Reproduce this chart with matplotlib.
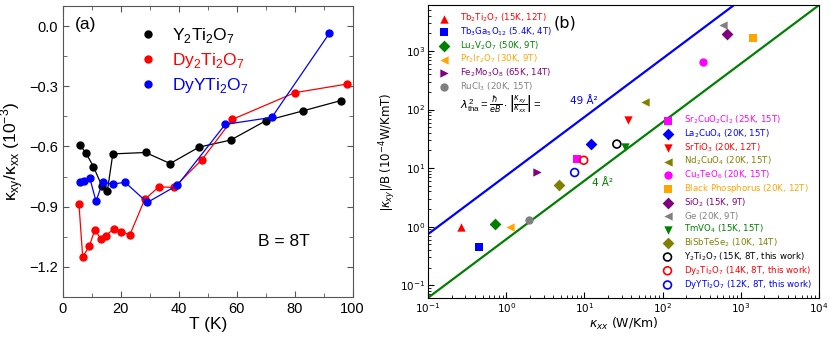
import numpy as np
import matplotlib
matplotlib.use("Agg")
import matplotlib.pyplot as plt
from matplotlib.lines import Line2D

plt.rcParams['mathtext.fontset'] = 'custom'
plt.rcParams['mathtext.rm'] = 'Liberation Sans'
plt.rcParams['mathtext.it'] = 'DejaVu Sans:italic'
plt.rcParams['mathtext.bf'] = 'DejaVu Sans:bold'
plt.rcParams['mathtext.sf'] = 'DejaVu Sans'

# ---------------- Panel (a) data ----------------
T_Y = [6.0, 8.0, 10.5, 13.4, 15.3, 17.2, 28.5, 37.0, 47.0, 57.9, 70.0, 83.0, 96.0]
r_Y = [-0.595, -0.635, -0.70, -0.796, -0.823, -0.637, -0.63, -0.685, -0.603, -0.568, -0.472, -0.422, -0.371]
T_Dy = [5.5, 6.8, 9.1, 11.0, 13.1, 14.7, 17.7, 20.1, 23.1, 28.2, 33.1, 38.4, 48.0, 58.5, 80.0, 98.0]
r_Dy = [-0.886, -1.150, -1.097, -1.014, -1.062, -1.044, -1.010, -1.024, -1.040, -0.864, -0.801, -0.804, -0.665, -0.465, -0.332, -0.289]
T_DyY = [6.0, 7.2, 9.2, 11.4, 13.7, 17.2, 21.4, 29.1, 39.5, 56.0, 72.1, 92.0]
r_DyY = [-0.778, -0.774, -0.755, -0.873, -0.778, -0.788, -0.778, -0.879, -0.793, -0.490, -0.455, -0.035]

# ---------------- Panel (b) data ----------------
names = [r'Tb$_\mathsf{2}$Ti$_\mathsf{2}$O$_\mathsf{7}$ (15K, 12T)',
         r'Tb$_\mathsf{3}$Ga$_\mathsf{5}$O$_\mathsf{12}$ (5.4K, 4T)',
         r'Lu$_\mathsf{2}$V$_\mathsf{2}$O$_\mathsf{7}$ (50K, 9T)',
         r'Pr$_\mathsf{2}$Ir$_\mathsf{2}$O$_\mathsf{7}$ (30K, 9T)',
         r'Fe$_\mathsf{2}$Mo$_\mathsf{3}$O$_\mathsf{8}$ (65K, 14T)',
         r'RuCl$_\mathsf{3}$ (20K, 15T)',
         r'Sr$_\mathsf{2}$CuO$_\mathsf{2}$Cl$_\mathsf{2}$ (25K, 15T)',
         r'La$_\mathsf{2}$CuO$_\mathsf{4}$ (20K, 15T)',
         r'SrTiO$_\mathsf{3}$ (20K, 12T)',
         r'Nd$_\mathsf{2}$CuO$_\mathsf{4}$ (20K, 15T)',
         r'Cu$_\mathsf{3}$TeO$_\mathsf{6}$ (20K, 15T)',
         r'Black Phosphorus$\mathsf{}_\mathsf{\ }$(20K, 12T)',
         r'SiO$_\mathsf{2}$ (15K, 9T)',
         r'Ge$\mathsf{}_\mathsf{\ }$(20K, 9T)',
         r'TmVO$_\mathsf{4}$ (15K, 15T)',
         r'BiSbTeSe$_\mathsf{2}$ (10K, 14T)',
         r'Y$_\mathsf{2}$Ti$_\mathsf{2}$O$_\mathsf{7}$ (15K, 8T, this work)',
         r'Dy$_\mathsf{2}$Ti$_\mathsf{2}$O$_\mathsf{7}$ (14K, 8T, this work)',
         r'DyYTi$_\mathsf{2}$O$_\mathsf{7}$ (12K, 8T, this work)']
kxx = [0.267, 0.45, 0.72, 1.115, 2.47, 1.97, 8.1, 12.3, 36.3, 59.4, 332, 1440, 676, 600, 33.3, 4.78, 26.0, 9.8, 7.5]
kxyB = [1.0, 0.455, 1.10, 1.0, 8.5, 1.30, 14.5, 25.7, 66.6, 137, 654, 1700, 1990, 2750, 23.3, 5.1, 25.7, 13.6, 8.4]
markers = ['^', 's', 'D', '<', '>', 'o', 's', 'D', 'v', '<', 'o', 's', 'D', '<', 'v', 'D', 'o', 'o', 'o']
colors = ['red', 'blue', 'green', 'orange', 'purple', 'gray', 'magenta', 'blue', 'red', 'olive',
          'magenta', 'orange', 'purple', 'gray', 'green', 'olive', 'black', 'red', 'blue']
filled = [True] * 16 + [False] * 3
lambda2 = [49, 4]          # Angstrom^2
lam_colors = ['blue', 'green']

fig = plt.figure(figsize=(8.3, 3.38), dpi=100)

# ---------------- Panel (a) ----------------
axa = fig.add_axes([0.0759, 0.1213, 0.349, 0.861])
lf = 'Liberation Sans'
for T, r, c in [(T_Y, r_Y, 'black'), (T_Dy, r_Dy, 'red'), (T_DyY, r_DyY, 'blue')]:
    axa.plot(T, r, '-o', color=c, lw=0.9, ms=5)
axa.set_xlim(0, 100)
axa.set_ylim(-1.35, 0.1)
axa.set_xticks([0, 20, 40, 60, 80, 100])
axa.set_xticks(np.arange(10, 100, 20), minor=True)
axa.set_yticks([0.0, -0.3, -0.6, -0.9, -1.2])
axa.set_yticks([-0.15, -0.45, -0.75, -1.05], minor=True)
axa.set_yticklabels(['0.0', '\u22120.3', '\u22120.6', '\u22120.9', '\u22121.2'])
axa.tick_params(which='both', direction='in', top=True, right=True, color='#555555',
                labelsize=10.5)
axa.tick_params(which='major', length=4)
axa.tick_params(which='minor', length=3)
for lab in axa.get_xticklabels() + axa.get_yticklabels():
    lab.set_fontfamily(lf)
for s in axa.spines.values():
    s.set_color('#555555')
axa.set_xlabel('T (K)', fontfamily=lf, fontsize=12.5, labelpad=1)
axa.set_ylabel(r'κ$_{\mathrm{xy}}$/κ$_{\mathrm{xx}}$ (10$^{\mathrm{-3}}$)', fontfamily=lf, fontsize=12.5, labelpad=2)
axa.text(0.041, 0.938, '(a)', transform=axa.transAxes, fontfamily=lf, fontsize=12.5, va='center')
axa.text(0.672, 0.189, 'B = 8T', transform=axa.transAxes, fontfamily=lf, fontsize=12.5, va='center')
hs = [Line2D([], [], ls='none', marker='o', color=c, ms=5) for c in ['black', 'red', 'blue']]
leg = axa.legend(hs, [r'Y$_{\mathrm{2}}$Ti$_{\mathrm{2}}$O$_{\mathrm{7}}$',
                      r'Dy$_{\mathrm{2}}$Ti$_{\mathrm{2}}$O$_{\mathrm{7}}$',
                      r'DyYTi$_{\mathrm{2}}$O$_{\mathrm{7}}$'],
                 loc='upper left', bbox_to_anchor=(0.205, 0.985), frameon=False,
                 prop={'family': lf, 'size': 12.5}, labelcolor=['black', 'red', 'blue'],
                 handlelength=1.2, handletextpad=0.75, labelspacing=0.35)

# ---------------- Panel (b) ----------------
axb = fig.add_axes([0.5157, 0.118, 0.471, 0.867])
axb.set_xscale('log')
axb.set_yscale('log')
xlim = (0.1, 1e4)
axb.set_xlim(*xlim)
axb.set_ylim(0.06, 6100)
# lines: |kxy|/B = (e/hbar) * lambda^2 * kxx, in units of 1e-4 W/KmT
e = 1.602176634e-19
hbar = 1.054571817e-34
xx = np.logspace(-1, 4, 50)
for l2, c in zip(lambda2, lam_colors):
    axb.plot(xx, e / hbar * l2 * 1e-20 * xx * 1e4, color=c, lw=1.6)
handles = []
for i in range(len(kxx)):
    if filled[i]:
        h = axb.scatter(kxx[i], kxyB[i], marker=markers[i], color=colors[i], s=36, zorder=3,
                        linewidths=0)
    else:
        h = axb.scatter(kxx[i], kxyB[i], marker=markers[i], facecolors='none',
                        edgecolors=colors[i], s=32, zorder=3, linewidths=1.2)
    handles.append(h)
axb.tick_params(which='both', direction='in', labelsize=7.5, pad=2)
axb.tick_params(which='major', length=4)
axb.tick_params(which='minor', length=2)
axb.set_xlabel(r'$\kappa_{xx}$ (W/Km)', fontsize=9, labelpad=1)
axb.set_ylabel(r'$|\kappa_{xy}|$/B (10$^{\mathsf{-4}}$W/KmT)', fontsize=8.5, labelpad=1)
axb.text(0.32, 0.939, '(b)', transform=axb.transAxes, fontsize=11.5, va='center')
axb.text(0.082, 0.66, r'$\lambda^2_{\rm tha}=\frac{\hbar}{eB}\cdot\left|\frac{\kappa_{xy}}{\kappa_{xx}}\right|=$',
         transform=axb.transAxes, fontsize=8.2, va='center')
axb.text(0.362, 0.672, '49 Å²', transform=axb.transAxes, fontsize=7.5, va='center', color='blue')
axb.text(0.419, 0.392, '4 Å²', transform=axb.transAxes, fontsize=7.5, va='center', color='green')

leg1 = axb.legend(handles[:6], names[:6], loc='upper left', bbox_to_anchor=(0.0, 1.0),
                  frameon=False, fontsize=6.2, labelcolor=colors[:6],
                  handletextpad=0.9, labelspacing=0.13, borderaxespad=0.4)
axb.add_artist(leg1)
leg2 = axb.legend(handles[6:], names[6:], loc='lower right', bbox_to_anchor=(1.0, 0.0),
                  frameon=False, fontsize=6.2, labelcolor=colors[6:],
                  handletextpad=0.9, labelspacing=0.14, borderaxespad=0.4)

fig.savefig('out.png', dpi=100)
